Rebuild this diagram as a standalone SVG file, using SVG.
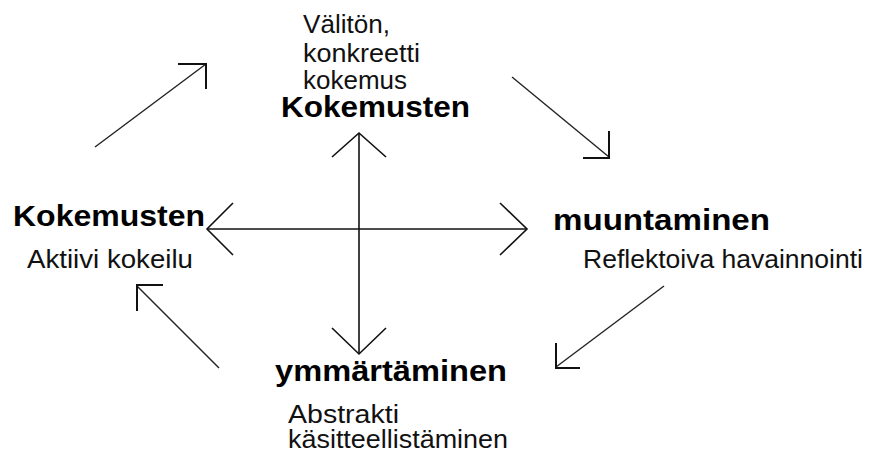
<svg xmlns="http://www.w3.org/2000/svg" width="870" height="453" viewBox="0 0 870 453">
<style>
.t{font-family:"Liberation Sans",Arial,sans-serif;font-size:25px;fill:#111}
.b{font-family:"Liberation Sans",Arial,sans-serif;font-size:29px;font-weight:bold;fill:#000}
.ln{stroke:#222;stroke-width:1.4;fill:none}
.hd{stroke:#111;stroke-width:2;fill:none}
.ax{stroke:#111;stroke-width:1.6;fill:none}
</style>
<rect width="870" height="453" fill="#fff"/>
<g id="connectors">
<line class="ax" x1="359" y1="133" x2="359" y2="354"/>
<line class="ax" x1="207" y1="229" x2="527" y2="229"/>
<polyline class="ax" points="332,157 359,133 386,157"/>
<polyline class="ax" points="332,328 359,354 386,328"/>
<polyline class="ax" points="233,203 207,229 233,255"/>
<polyline class="ax" points="500,203 527,229 500,255"/>
<line class="ln" x1="95" y1="147" x2="206" y2="64"/>
<polyline class="hd" points="178,64 206,64 206,89"/>
<line class="ln" x1="512" y1="77" x2="609" y2="157"/>
<polyline class="hd" points="609,131 609,158 583,158"/>
<line class="ln" x1="219" y1="368" x2="137" y2="286"/>
<polyline class="hd" points="137,311 137,285 163,285"/>
<line class="ln" x1="664" y1="286" x2="556" y2="367"/>
<polyline class="hd" points="556,343 556,368 580,368"/>
</g>
<g id="top">
<text class="t" x="303" y="33" textLength="87" lengthAdjust="spacingAndGlyphs">Välitön,</text>
<text class="t" x="303" y="62" textLength="117" lengthAdjust="spacingAndGlyphs">konkreetti</text>
<text class="t" x="303" y="89" textLength="104" lengthAdjust="spacingAndGlyphs">kokemus</text>
<text class="b" x="281" y="117" textLength="189" lengthAdjust="spacingAndGlyphs">Kokemusten</text>
</g>
<g id="left">
<text class="b" x="13" y="226" textLength="192" lengthAdjust="spacingAndGlyphs">Kokemusten</text>
<text class="t" x="27" y="268" textLength="166" lengthAdjust="spacingAndGlyphs">Aktiivi kokeilu</text>
</g>
<g id="right">
<text class="b" x="553" y="230" textLength="217" lengthAdjust="spacingAndGlyphs">muuntaminen</text>
<text class="t" x="583" y="268" textLength="280" lengthAdjust="spacingAndGlyphs">Reflektoiva havainnointi</text>
</g>
<g id="bottom">
<text class="b" x="275" y="381" textLength="232" lengthAdjust="spacingAndGlyphs">ymmärtäminen</text>
<text class="t" x="288" y="423" textLength="111" lengthAdjust="spacingAndGlyphs">Abstrakti</text>
<text class="t" x="288" y="448" textLength="220" lengthAdjust="spacingAndGlyphs">käsitteellistäminen</text>
</g>
</svg>
